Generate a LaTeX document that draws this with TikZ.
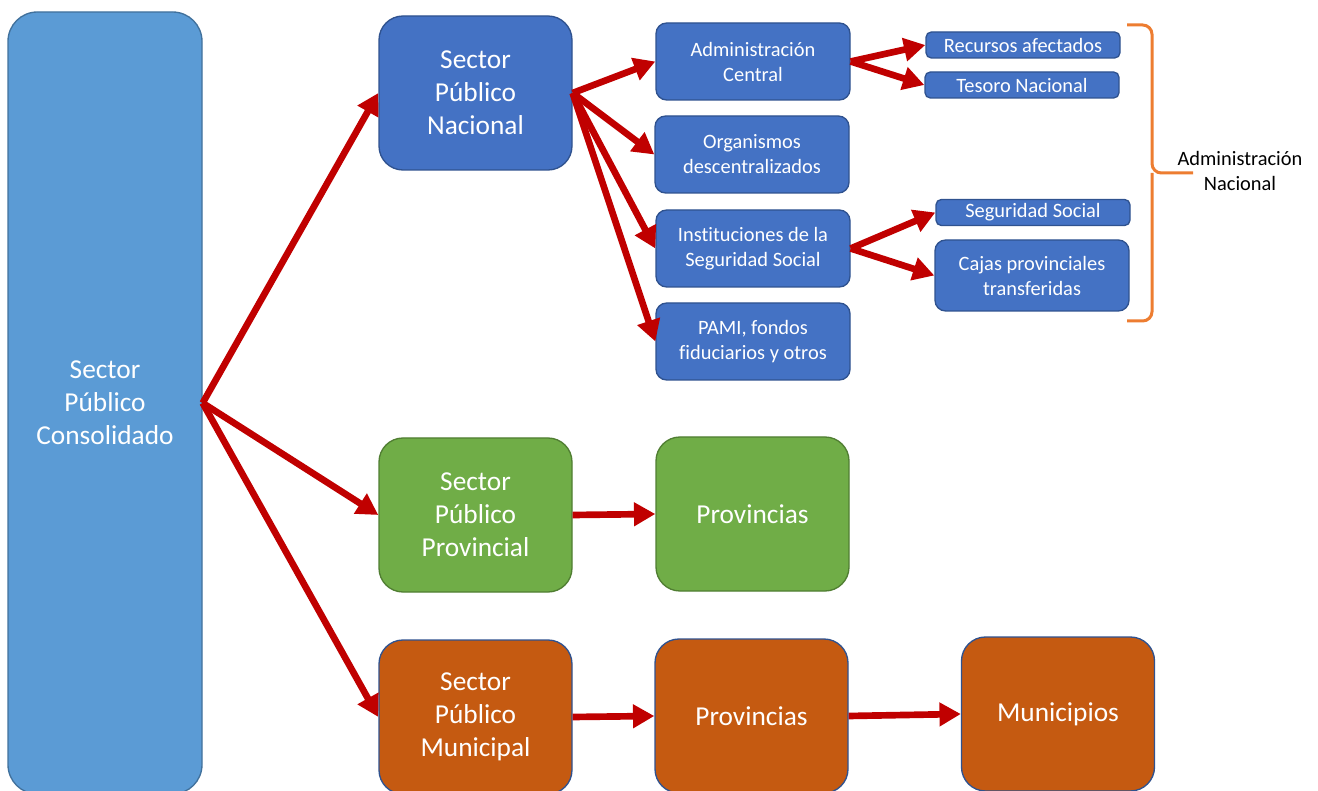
\documentclass[tikz,border=0pt]{standalone}
\usepackage{fontspec}
\setmainfont{Carlito}[Ligatures={NoCommon}]
\usetikzlibrary{arrows.meta}

\definecolor{consfill}{HTML}{5B9BD5}
\definecolor{consline}{HTML}{41719C}
\definecolor{natfill}{HTML}{4472C4}
\definecolor{natline}{HTML}{2F528F}
\definecolor{provfill}{HTML}{70AD47}
\definecolor{provline}{HTML}{507E32}
\definecolor{munifill}{HTML}{C55A11}
\definecolor{arrowred}{HTML}{C00000}
\definecolor{braceorange}{HTML}{ED7D31}

\tikzset{
  box/.style={draw=natline,fill=natfill,line width=1pt,text=white,align=center,inner sep=0pt},
  bigbox/.style={box,rounded corners=18pt,minimum width=144.75pt,minimum height=115.5pt,
    font=\fontsize{20.5}{24.75}\selectfont},
  midbox/.style={box,rounded corners=8pt,minimum width=145.5pt,minimum height=57.75pt,
    font=\fontsize{15.3}{18.75}\selectfont},
  thinbox/.style={box,rounded corners=4pt,minimum width=145.5pt,minimum height=19.5pt,
    font=\fontsize{15.3}{18.75}\selectfont},
  prov/.style={fill=provfill,draw=provline},
  muni/.style={fill=munifill},
  link/.style={draw=arrowred,line width=5pt,-{Triangle[length=16pt,width=17pt]}},
}

\begin{document}
\begin{tikzpicture}[x=0.75pt,y=-0.75pt]
  \useasboundingbox (0,0) rectangle (1318,791);
  \clip (0,0) rectangle (1318,791);

  % left column
  \node[bigbox,fill=consfill,draw=consline,rounded corners=22pt,minimum width=145.5pt,minimum height=586.5pt]
    (cons) at (105,403) {Sector\\Público\\Consolidado};

  % sectors
  \node[bigbox] (spn) at (475.5,93) {Sector\\Público\\Nacional};
  \node[bigbox,prov] (spp) at (475.5,515) {Sector\\Público\\Provincial};
  \node[bigbox,muni] (spm) at (475.5,717) {Sector\\Público\\Municipal};

  % national branch
  \node[midbox] (adc) at (753,61.5) {Administración\\Central};
  \node[midbox] (org) at (752,154.5) {Organismos\\descentralizados};
  \node[midbox] (iss) at (753,248.5) {Instituciones de la\\Seguridad Social};
  \node[midbox] (pami) at (753,341.5) {PAMI, fondos\\fiduciarios y otros};

  \node[thinbox] (recaf) at (1023,45) {Recursos afectados};
  \node[thinbox] (tesoro) at (1022,85) {Tesoro Nacional};
  \node[thinbox] (segsoc) at (1033,212.5) {Seguridad Social};
  \node[midbox,minimum height=53.25pt] (cajas) at (1032,275.5) {Cajas provinciales\\transferidas};

  % provinces and municipalities
  \node[bigbox,prov] (provA) at (752.5,514) {Provincias};
  \node[bigbox,muni] (provB) at (751.5,716) {Provincias};
  \node[bigbox,muni] (munic) at (1058,714) {Municipios};

  % brace
  \draw[braceorange,line width=2.25pt,rounded corners=7pt]
    (1127,25) -- (1152,25) -- (1152,173) -- (1193,173);
  \draw[braceorange,line width=2.25pt,rounded corners=7pt]
    (1127,321) -- (1152,321) -- (1152,173);
  \node[align=center,font=\fontsize{15.3}{18.75}\selectfont] (adnac) at (1240,171) {Administración\\Nacional};

  % arrows
  \draw[link] (cons.east) -- (spn.west);
  \draw[link] (cons.east) -- (spp.west);
  \draw[link] (cons.east) -- (spm.west);
  \draw[link] (spn.east) -- (adc.west);
  \draw[link] (spn.east) -- (org.west);
  \draw[link] (spn.east) -- (iss.west);
  \draw[link] (spn.east) -- (pami.west);
  \draw[link] (adc.east) -- (recaf.west);
  \draw[link] (adc.east) -- (tesoro.west);
  \draw[link] (iss.east) -- (segsoc.west);
  \draw[link] (iss.east) -- (cajas.west);
  \draw[link] (spp.east) -- (provA.west);
  \draw[link] (spm.east) -- (provB.west);
  \draw[link] (provB.east) -- (munic.west);
\end{tikzpicture}
\end{document}
